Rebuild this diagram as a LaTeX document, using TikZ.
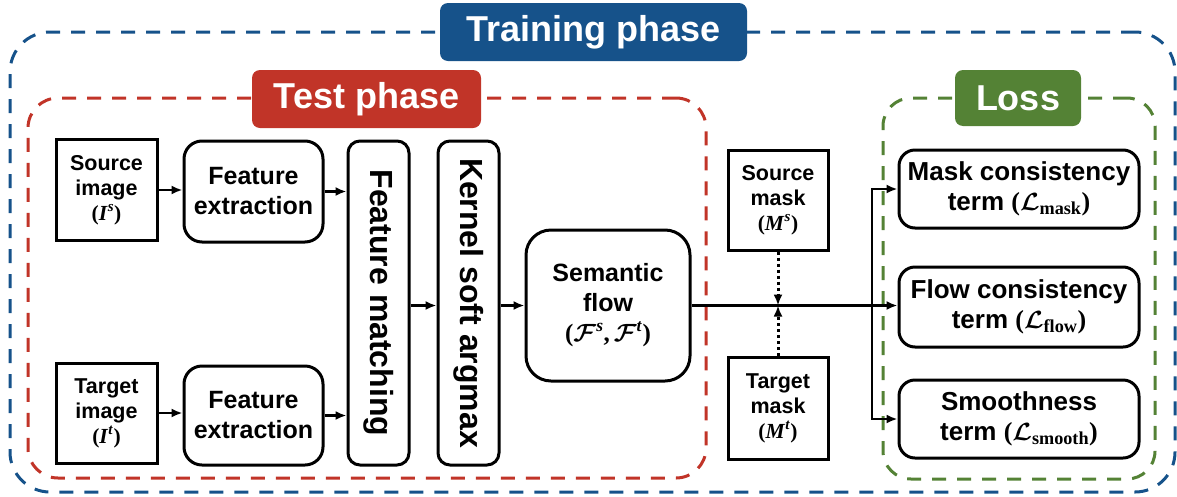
\documentclass[tikz,border=0pt]{standalone}
\usepackage{amsmath}
\usepackage{bm}
\usepackage{fontspec}
\setmainfont{Liberation Sans}
\newfontfamily\serifb{Liberation Serif}
\usepackage{graphicx}
\usetikzlibrary{arrows.meta}
\definecolor{tblue}{RGB}{22,82,138}
\definecolor{tred}{RGB}{193,52,40}
\definecolor{tgreen}{RGB}{84,130,53}
\newcommand{\myit}[1]{\text{\serifb\bfseries\itshape #1\/}}
\newcommand{\myup}[1]{\text{\serifb\bfseries #1}}
\tikzset{
 box/.style={draw, line width=3pt, align=center, inner sep=0pt, font=\bfseries\fontsize{21.5}{25}\selectfont},
 rbox/.style={box, rounded corners=18pt, font=\bfseries\fontsize{25}{30}\selectfont},
 vbox/.style={box, rounded corners=12pt, font=\bfseries\fontsize{32}{36}\selectfont},
 lossbox/.style={box, rounded corners=16pt, minimum width=240pt, font=\bfseries\fontsize{26}{30}\selectfont},
 frame/.style={dash pattern=on 14pt off 11pt, line width=3pt, inner sep=0pt},
 tag/.style={rounded corners=8pt, text=white, inner sep=0pt, font=\bfseries\fontsize{36}{40}\selectfont},
 arr/.style={line width=2.5pt, -{Latex[length=11pt,width=9pt]}},
 dotarr/.style={line width=3pt, dash pattern=on 3pt off 3pt, -{Latex[length=11pt,width=9pt]}},
}
\begin{document}
\begin{tikzpicture}[x=1pt,y=-1pt]
\useasboundingbox (0,0) rectangle (1177,496);
% frames
\node[frame, draw=tblue, rounded corners=40pt, minimum width=1165pt, minimum height=460pt] (train) at (592.5,262) {};
\node[frame, draw=tred, rounded corners=30pt, minimum width=678pt, minimum height=380pt] (test) at (367,288) {};
\node[frame, draw=tgreen, rounded corners=28pt, minimum width=272pt, minimum height=381pt] (loss) at (1019,288.5) {};
% tags
\node[tag, fill=tblue, minimum width=307pt, minimum height=58pt] (traintag) at (593.5,32) {Training phase};
\node[tag, fill=tred, minimum width=229pt, minimum height=58pt] (testtag) at (366.5,99) {Test phase};
\node[tag, fill=tgreen, minimum width=126pt, minimum height=56pt] (losstag) at (1018,98) {Loss};
% nodes
\node[box, minimum width=101pt, minimum height=101pt] (simg) at (106.5,190) {Source\\image\\$\myup{(}\myit{I}^{\myit{s}}\myup{)}$};
\node[box, minimum width=101pt, minimum height=100pt] (timg) at (106.5,413) {Target\\image\\$\myup{(}\myit{I}^{\myit{t}}\myup{)}$};
\node[rbox, minimum width=139pt, minimum height=101pt] (fe1) at (253.5,191.5) {Feature\\extraction};
\node[rbox, minimum width=139pt, minimum height=99pt] (fe2) at (253.5,415.5) {Feature\\extraction};
\node[vbox, minimum width=61pt, minimum height=324pt] (fm) at (378.5,303) {\rotatebox{-90}{Feature matching}};
\node[vbox, minimum width=61pt, minimum height=324pt] (ksa) at (468.5,303) {\rotatebox{-90}{Kernel soft argmax}};
\node[rbox, rounded corners=25pt, minimum width=164pt, minimum height=151pt] (sf) at (608,305.5) {Semantic\\flow\\$\myup{(}\bm{\mathcal{F}}^{\myit{s}}\myup{,}\,\bm{\mathcal{F}}^{\myit{t}}\myup{)}$};
\node[box, minimum width=100pt, minimum height=100pt] (smask) at (778,200) {Source\\mask\\$\myup{(}\myit{M}^{\myit{s}}\myup{)}$};
\node[box, minimum width=100pt, minimum height=102pt] (tmask) at (778,408) {Target\\mask\\$\myup{(}\myit{M}^{\myit{t}}\myup{)}$};
\node[lossbox, minimum height=78pt] (lmask) at (1019,189) {Mask consistency\\term $\myup{(}\bm{\mathcal{L}}_{\myup{mask}}\myup{)}$};
\node[lossbox, minimum height=80pt] (lflow) at (1019,307) {Flow consistency\\term $\myup{(}\bm{\mathcal{L}}_{\myup{flow}}\myup{)}$};
\node[lossbox, minimum height=78pt] (lsmooth) at (1019,419) {Smoothness\\term $\myup{(}\bm{\mathcal{L}}_{\myup{smooth}}\myup{)}$};
% connectors
\draw[arr] (simg.east) -- (simg.east -| fe1.west);
\draw[arr] (fe1.east) -- (fe1.east -| fm.west);
\draw[arr] (timg.east) -- (timg.east -| fe2.west);
\draw[arr] (fe2.east) -- (fe2.east -| fm.west);
\draw[arr] (fm.east |- sf.west) -- (ksa.west |- sf.west);
\draw[arr] (ksa.east |- sf.west) -- (sf.west);
\draw[arr] (sf.east) -- (sf.east -| lflow.west);
\coordinate (br) at (872,305.5);
\draw[arr] (br) |- (lmask.west);
\draw[arr] (br) |- (lsmooth.west);
\coordinate (meet) at (smask.south |- sf.east);
\draw[dotarr] (smask.south) -- (meet);
\draw[dotarr] (tmask.north) -- (meet);
\end{tikzpicture}
\end{document}
